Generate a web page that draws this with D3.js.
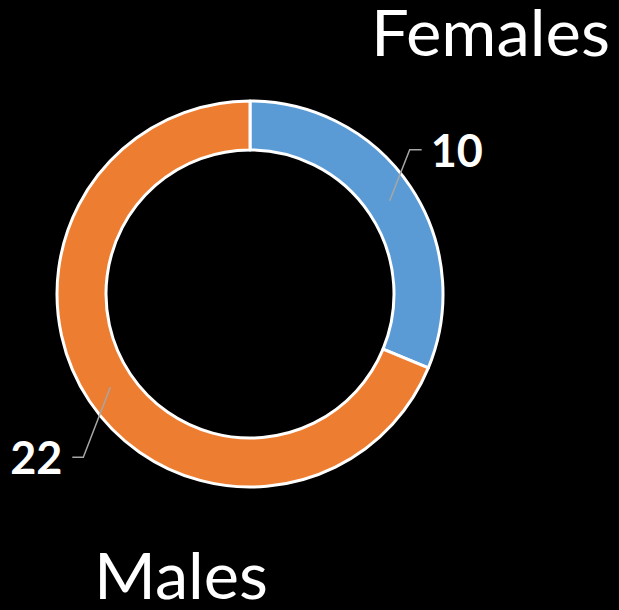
<!DOCTYPE html>
<html>
<head>
<meta charset="utf-8">
<script src="https://cdn.jsdelivr.net/npm/d3@7"></script>
<style>
  html, body { margin: 0; padding: 0; background: #000; }
  svg { display: block; }
</style>
</head>
<body>
<div class="canvas"></div>
<script>
// data
const categories = ["Females", "Males"];
const values = [10, 22];
const colors = ["#5B9BD5", "#ED7D31"];

const width = 619, height = 610;
const cx = 250, cy = 294;
const outerR = 193, innerR = 144;

const svg = d3.select(".canvas").append("svg")
    .attr("width", width)
    .attr("height", height);

svg.append("rect").attr("width", width).attr("height", height).attr("fill", "#000");

const pie = d3.pie().sort(null).value(d => d.value);
const arcs = pie(categories.map((c, i) => ({name: c, value: values[i], color: colors[i]})));

const arc = d3.arc().innerRadius(innerR).outerRadius(outerR);
const labelArc = d3.arc().innerRadius(168).outerRadius(168);

const g = svg.append("g").attr("transform", `translate(${cx},${cy})`);

g.selectAll("path.slice")
    .data(arcs)
    .enter().append("path")
    .attr("class", "slice")
    .attr("d", arc)
    .attr("fill", d => d.data.color)
    .attr("stroke", "#fff")
    .attr("stroke-width", 3)
    .attr("stroke-linejoin", "round");

// leader lines + value labels (offsets from slice centroid)
const labelOffsets = [
    {dx: 20, dy: -51, hx: 12, anchor: "start"},
    {dx: -27, dy: 70, hx: -11, anchor: "end"}
];

arcs.forEach((d, i) => {
    const [x0, y0] = labelArc.centroid(d);
    const o = labelOffsets[i];
    const x1 = x0 + o.dx, y1 = y0 + o.dy, x2 = x1 + o.hx;
    g.append("polyline")
        .attr("points", [[x0, y0], [x1, y1], [x2, y1]].map(p => p.join(",")).join(" "))
        .attr("fill", "none")
        .attr("stroke", "#A6A6A6")
        .attr("stroke-width", 1.5);
    g.append("text")
        .attr("x", x2 + (o.hx > 0 ? 9 : -10))
        .attr("y", y1 + 17)
        .attr("text-anchor", o.anchor)
        .attr("fill", "#fff")
        .attr("font-family", "Lato, 'Open Sans', sans-serif")
        .attr("font-weight", "bold")
        .attr("font-size", 45)
        .text(d.data.value);
});

// category titles
const titles = [
    {x: 371, y: 56, size: 64, len: 239},
    {x: 94, y: 599, size: 63, len: 174}
];
categories.forEach((c, i) => {
    svg.append("text")
        .attr("x", titles[i].x)
        .attr("y", titles[i].y)
        .attr("textLength", titles[i].len)
        .attr("lengthAdjust", "spacingAndGlyphs")
        .attr("fill", "#fff")
        .attr("font-family", "Lato, 'Open Sans', sans-serif")
        .attr("font-size", titles[i].size)
        .text(c);
});
</script>
</body>
</html>
